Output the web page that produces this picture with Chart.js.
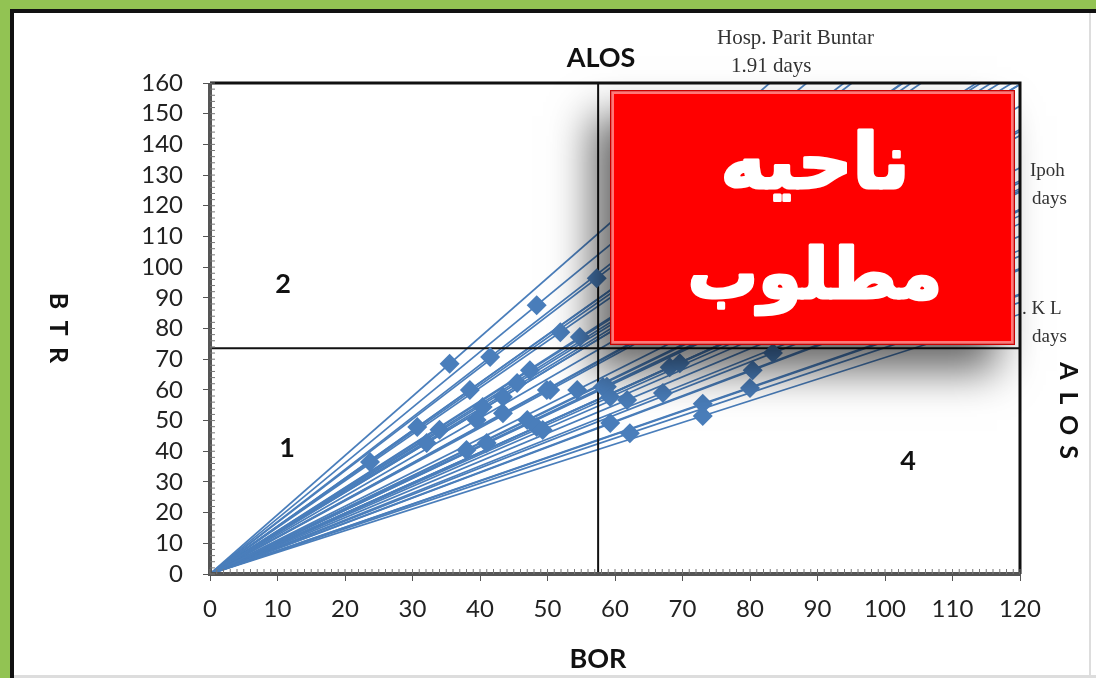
<!DOCTYPE html>
<html lang="en">
<head>
  <meta charset="UTF-8" />
  <title>BOR / BTR / ALOS</title>
  <script src="https://cdn.jsdelivr.net/npm/chart.js"></script>
  <style>
    html, body { margin: 0; padding: 0; background: #fff; }
    .wrap { width: 1096px; height: 678px; position: relative; }
  </style>
</head>
<body>
  <div class="wrap"><canvas id="borChart"></canvas></div>

  <script>
    // hospitals: bed occupancy rate (x) and bed turnover rate (y)
    const borValues = [23.7, 30.7, 32.1, 34, 35.5, 38, 38.5, 39.5, 40.4, 41, 41.5, 43.4, 43.4, 45.5, 47, 47.4,
                       48.4, 48.4, 49.3, 49.9, 50.4, 51.9, 54.4, 54.8, 57.3, 58.2, 58.8, 59.3, 59.3, 61.8,
                       62.2, 67.1, 68.1, 69.6, 73, 73, 80, 80.4, 83.4];
    const btrValues = [36.5, 47.9, 42.7, 47, 68.5, 40.4, 60, 50.2, 54.4, 42.7, 70.7, 57.7, 52.4, 62.2, 50.2, 66.4,
                       87.6, 47.9, 46.9, 60, 60, 78.8, 60, 77.2, 96.4, 60.9, 61, 57.7, 49.2, 56.7,
                       45.9, 59, 67.4, 68.7, 55.5, 51.5, 60.6, 66.4, 72];
    // quadrant split lines (average BOR, average BTR)
    const splitBor = 57.5;
    const splitBtr = 73.6;
    const xTicks = [0, 10, 20, 30, 40, 50, 60, 70, 80, 90, 100, 110, 120];
    const yTicks = [0, 10, 20, 30, 40, 50, 60, 70, 80, 90, 100, 110, 120, 130, 140, 150, 160];

    const xMax = xTicks[xTicks.length - 1];
    const yMax = yTicks[yTicks.length - 1];
    const blue = '#4a7ebb';

    // one ALOS line per hospital, from the origin through its point to the frame
    const rayData = borValues.map((bx, i) => {
      const by = btrValues[i];
      const t = Math.min(xMax / bx, yMax / by);
      return {
        data: [{ x: 0, y: 0 }, { x: bx * t, y: by * t }],
        showLine: true, borderColor: blue, borderWidth: 1.7,
        pointRadius: 0, order: 3
      };
    });

    const points = borValues.map((bx, i) => ({ x: bx, y: btrValues[i] }));

    const datasets = [
      {
        data: points, pointStyle: 'rectRot', pointRadius: 10,
        backgroundColor: blue, borderColor: blue, borderWidth: 0, order: 1
      },
      {
        data: [{ x: splitBor, y: 0 }, { x: splitBor, y: yMax }],
        showLine: true, borderColor: '#111', borderWidth: 2, pointRadius: 0, order: 2
      },
      {
        data: [{ x: 0, y: splitBtr }, { x: xMax, y: splitBtr }],
        showLine: true, borderColor: '#111', borderWidth: 2, pointRadius: 0, order: 2
      }
    ].concat(rayData);

    function vertText(ctx, txt, x, y, step) {
      for (let i = 0; i < txt.length; i++) {
        ctx.save();
        ctx.translate(x, y + i * step);
        ctx.rotate(Math.PI / 2);
        ctx.fillText(txt[i], 0, 0);
        ctx.restore();
      }
    }

    const frame = {
      id: 'frame',
      beforeDraw(chart) {
        const ctx = chart.ctx;
        ctx.save();
        ctx.fillStyle = '#fff';
        ctx.fillRect(0, 0, 1096, 678);
        ctx.fillStyle = '#92c353';
        ctx.fillRect(0, 0, 1096, 9);
        ctx.fillRect(0, 0, 10, 678);
        ctx.fillStyle = '#111';
        ctx.fillRect(10, 9, 1086, 4);
        ctx.fillRect(10, 9, 4, 669);
        ctx.fillStyle = '#ddd';
        ctx.fillRect(1089, 13, 2, 665);
        ctx.fillRect(14, 675, 1082, 3);
        ctx.restore();
      },
      afterDraw(chart) {
        const ctx = chart.ctx;
        const a = chart.chartArea;
        const xs = chart.scales.x, ys = chart.scales.y;
        ctx.save();

        // frame of the plot
        ctx.strokeStyle = '#111';
        ctx.lineWidth = 3;
        ctx.beginPath();
        ctx.moveTo(a.left, a.top); ctx.lineTo(a.right, a.top); ctx.lineTo(a.right, a.bottom);
        ctx.stroke();
        ctx.strokeStyle = '#555';
        ctx.lineWidth = 4;
        ctx.beginPath();
        ctx.moveTo(a.left, a.top); ctx.lineTo(a.left, a.bottom); ctx.lineTo(a.right, a.bottom);
        ctx.stroke();
        // minor ticks
        ctx.lineWidth = 1;
        ctx.strokeStyle = '#777';
        for (let v = 0; v <= xMax; v++) {
          const px = xs.getPixelForValue(v);
          ctx.beginPath(); ctx.moveTo(px, a.bottom); ctx.lineTo(px, a.bottom - 5); ctx.stroke();
        }
        for (let v = 0; v <= yMax; v += 2) {
          const py = ys.getPixelForValue(v);
          ctx.beginPath(); ctx.moveTo(a.left, py); ctx.lineTo(a.left + 5, py); ctx.stroke();
        }

        // axis titles and quadrant numbers
        ctx.fillStyle = '#111';
        ctx.textAlign = 'center';
        ctx.textBaseline = 'middle';
        ctx.font = 'bold 27px Lato';
        ctx.fillText('ALOS', 601, 58);
        ctx.fillText('BOR', 598, 659);
        ctx.fillText('2', 283, 284);
        ctx.fillText('1', 287, 448);
        ctx.fillText('4', 908, 461);
        ctx.font = 'bold 25px Lato';
        vertText(ctx, 'BTR', 58, 301, 27);
        vertText(ctx, 'ALOS', 1068, 371, 27);

        // serif notes of the ALOS lines
        ctx.fillStyle = '#333';
        ctx.font = '21px "Liberation Serif"';
        ctx.textAlign = 'left';
        ctx.fillText('Hosp. Parit Buntar', 717, 38);
        ctx.fillText('1.91 days', 731, 66);
        ctx.font = '19px "Liberation Serif"';
        ctx.fillText('Ipoh', 1030, 171);
        ctx.fillText('days', 1032, 199);
        ctx.fillText('. K L', 1022, 309);
        ctx.fillText('days', 1032, 337);

        // red box with shadow
        const bx = 610, by = 90, bw = 405, bh = 255;
        ctx.save();
        ctx.shadowColor = 'rgba(0,0,0,0.6)';
        ctx.shadowBlur = 40;
        ctx.shadowOffsetX = -18;
        ctx.shadowOffsetY = 26;
        ctx.fillStyle = '#ff0000';
        ctx.fillRect(bx, by, bw, bh);
        ctx.restore();
        ctx.strokeStyle = 'rgba(255,150,150,0.8)';
        ctx.lineWidth = 3;
        ctx.strokeRect(bx + 2.5, by + 2.5, bw - 5, bh - 5);
        ctx.strokeStyle = 'rgba(150,0,0,0.5)';
        ctx.lineWidth = 1.5;
        ctx.strokeRect(bx + 0.75, by + 0.75, bw - 1.5, bh - 1.5);

        ctx.fillStyle = '#fff';
        ctx.strokeStyle = '#fff';
        ctx.lineWidth = 3;
        ctx.lineJoin = 'round';
        ctx.textAlign = 'center';
        ctx.textBaseline = 'alphabetic';
        ctx.direction = 'rtl';
        ctx.font = 'bold 76px "DejaVu Sans"';
        ctx.fillText('ناحیه', 815, 188);
        ctx.strokeText('ناحیه', 815, 188);
        ctx.font = 'bold 70px "DejaVu Sans"';
        ctx.fillText('مطلوب', 815, 298);
        ctx.strokeText('مطلوب', 815, 298);
        ctx.restore();
      }
    };

    const tickFont = { family: 'Lato', size: 24 };

    new Chart(document.getElementById('borChart'), {
      type: 'scatter',
      data: { datasets: datasets },
      options: {
        responsive: true,
        maintainAspectRatio: false,
        animation: false,
        layout: { padding: { top: 83, right: 76, bottom: 0, left: 0 } },
        plugins: { legend: { display: false }, tooltip: { enabled: false } },
        scales: {
          x: {
            type: 'linear', min: 0, max: xMax,
            afterFit: s => { s.height = 104; },
            afterBuildTicks: s => { s.ticks = xTicks.map(v => ({ value: v })); },
            grid: { drawOnChartArea: false, tickLength: 7, color: '#555' },
            border: { display: false },
            ticks: { font: tickFont, color: '#222', padding: 14, autoSkip: false, maxRotation: 0 }
          },
          y: {
            type: 'linear', min: 0, max: yMax,
            afterFit: s => { s.width = 210; },
            afterBuildTicks: s => { s.ticks = yTicks.map(v => ({ value: v })); },
            grid: { drawOnChartArea: false, tickLength: 7, color: '#555' },
            border: { display: false },
            ticks: { font: tickFont, color: '#222', padding: 20, autoSkip: false }
          }
        }
      },
      plugins: [frame]
    });
  </script>
</body>
</html>
